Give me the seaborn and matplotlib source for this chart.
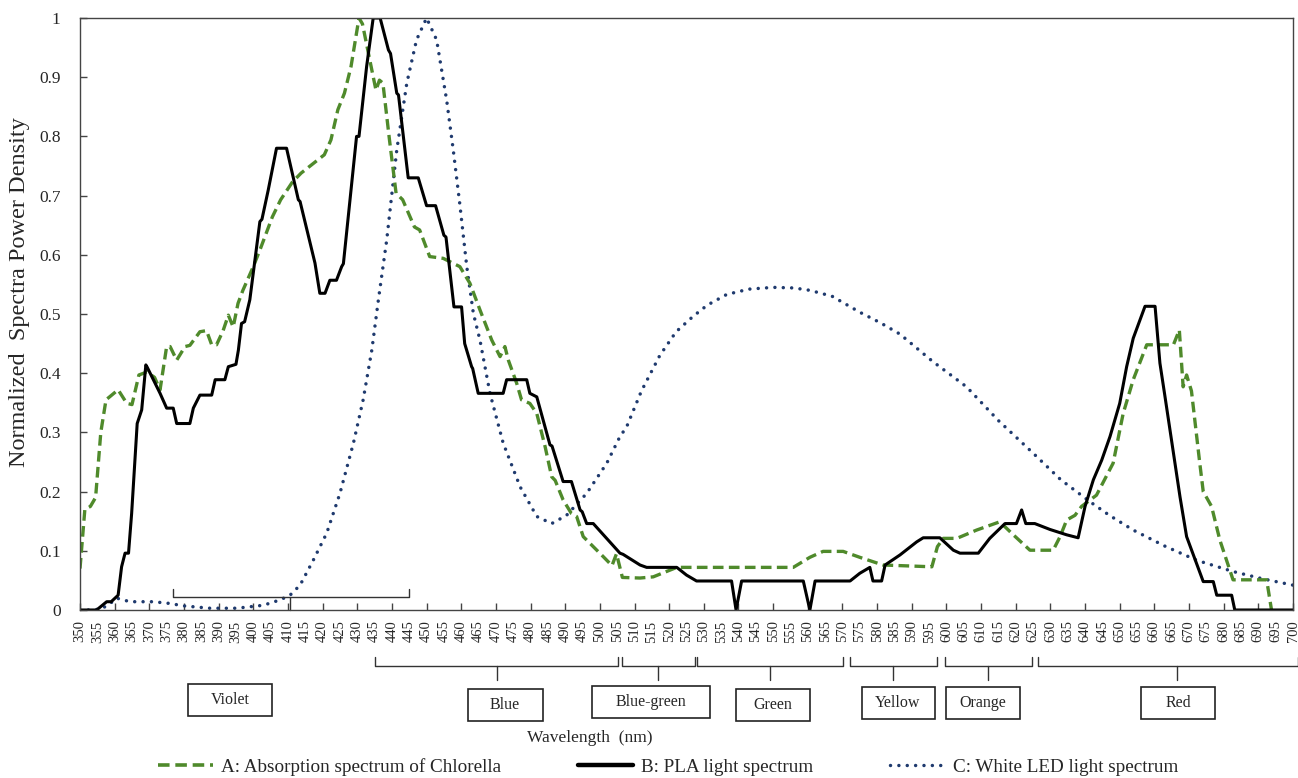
import numpy as np
import pandas as pd
import matplotlib
matplotlib.use("Agg")
import matplotlib.pyplot as plt
from matplotlib.lines import Line2D
from matplotlib.patches import Rectangle
import seaborn as sns

# ---------------- data ----------------
wl_a = [350.0, 351.4, 353.0, 354.5, 356.0, 357.5, 361.0, 363.5, 365.0, 367.0, 369.3, 371.5, 373.1,
        375.0, 376.0, 377.9, 380.3, 381.7, 384.6, 386.5, 388.0, 389.4, 391.3, 392.8, 394.2, 395.6,
        397.0, 400.0, 402.1, 405.5, 407.9, 411.3, 413.8, 420.5, 422.4, 424.4, 426.3, 428.2, 430.5,
        431.5, 434.0, 435.4, 436.4, 437.4, 439.3, 441.2, 443.1, 446.5, 448.0, 450.9, 454.8, 459.6,
        462.5, 465.4, 468.8, 471.2, 472.6, 473.6, 476.0, 477.4, 479.8, 481.8, 484.2, 486.1, 487.1,
        489.4, 491.8, 493.3, 495.2, 498.1, 501.0, 503.5, 504.8, 506.5, 511.6, 515.4, 522.2, 555.8,
        560.6, 564.4, 570.2, 575.0, 581.7, 595.8, 597.4, 599.1, 603.0, 608.7, 615.4, 619.3, 624.1,
        630.8, 632.8, 634.7, 637.1, 639.0, 643.3, 648.1, 651.0, 653.9, 657.8, 665.5, 667.2, 668.3,
        669.3, 670.7, 673.1, 674.1, 676.5, 678.9, 682.7, 692.4, 693.8]
absorption_a = [0.07, 0.17, 0.175, 0.19, 0.30, 0.355, 0.372, 0.349, 0.347, 0.397, 0.402, 0.393, 0.372,
                0.445, 0.445, 0.422, 0.445, 0.447, 0.47, 0.472, 0.448, 0.448, 0.472, 0.498, 0.478, 0.518,
                0.54, 0.58, 0.611, 0.664, 0.693, 0.723, 0.738, 0.769, 0.794, 0.845, 0.873, 0.918, 1.0,
                0.99, 0.918, 0.878, 0.895, 0.89, 0.794, 0.704, 0.693, 0.647, 0.642, 0.597, 0.594, 0.58,
                0.552, 0.507, 0.456, 0.428, 0.445, 0.422, 0.383, 0.355, 0.349, 0.332, 0.276, 0.225, 0.219,
                0.186, 0.163, 0.158, 0.124, 0.107, 0.09, 0.075, 0.095, 0.055, 0.054, 0.056, 0.072, 0.072,
                0.089, 0.099, 0.099, 0.089, 0.076, 0.073, 0.107, 0.121, 0.121, 0.135, 0.149, 0.127, 0.101,
                0.101, 0.124, 0.152, 0.16, 0.175, 0.194, 0.248, 0.332, 0.389, 0.448, 0.448, 0.473, 0.377,
                0.397, 0.37, 0.248, 0.2, 0.175, 0.118, 0.051, 0.051, 0.0]

wl_b = [350.0, 354.8, 357.7, 359.0, 361.0, 362.0, 363.0, 364.0, 364.9, 366.5, 367.8, 369.0, 369.4,
        373.1, 375.0, 376.9, 377.9, 381.7, 382.7, 384.6, 388.0, 389.0, 391.8, 392.8, 395.0, 395.7,
        396.6, 397.5, 399.0, 401.9, 402.5, 404.3, 406.7, 409.6, 413.0, 413.5, 417.8, 419.2, 420.7,
        422.1, 424.0, 425.5, 426.0, 429.8, 430.5, 432.7, 434.6, 436.6, 439.0, 439.6, 441.4, 441.9,
        444.7, 447.6, 450.0, 452.6, 455.0, 455.6, 457.9, 460.1, 461.0, 463.0, 463.3, 464.9, 472.1,
        473.1, 478.9, 479.8, 481.8, 485.6, 486.2, 489.4, 491.8, 494.3, 494.9, 496.2, 498.1, 502.9,
        505.8, 506.7, 511.6, 513.5, 522.2, 525.0, 527.9, 538.0, 539.3, 540.9, 558.7, 560.6, 562.1,
        572.2, 575.0, 577.9, 578.8, 581.3, 582.3, 586.6, 591.4, 593.3, 598.1, 602.0, 603.9, 609.2,
        612.5, 616.9, 620.2, 621.7, 622.9, 625.5, 629.9, 634.7, 638.0, 640.0, 642.4, 644.8, 647.2,
        650.0, 652.0, 653.9, 657.3, 660.2, 661.6, 663.0, 667.4, 669.3, 674.1, 677.0, 678.0, 682.3,
        683.2, 700.0]
pla_b = [0.0, 0.0, 0.014, 0.014, 0.025, 0.073, 0.096, 0.096, 0.163, 0.315, 0.338, 0.414, 0.41,
         0.366, 0.341, 0.341, 0.315, 0.315, 0.341, 0.363, 0.363, 0.389, 0.389, 0.411, 0.415, 0.439,
         0.484, 0.487, 0.524, 0.656, 0.66, 0.709, 0.78, 0.78, 0.693, 0.69, 0.586, 0.535, 0.535,
         0.557, 0.557, 0.58, 0.585, 0.8, 0.8, 0.918, 1.0, 1.0, 0.946, 0.94, 0.873, 0.87,
         0.73, 0.73, 0.683, 0.683, 0.633, 0.63, 0.512, 0.512, 0.45, 0.411, 0.408, 0.366, 0.366,
         0.389, 0.389, 0.366, 0.36, 0.279, 0.277, 0.217, 0.217, 0.169, 0.166, 0.146, 0.146, 0.115,
         0.096, 0.094, 0.076, 0.072, 0.072, 0.059, 0.049, 0.049, 0.0, 0.049, 0.049, 0.0, 0.049,
         0.049, 0.062, 0.072, 0.049, 0.049, 0.076, 0.093, 0.115, 0.122, 0.122, 0.101, 0.096, 0.096,
         0.121, 0.146, 0.146, 0.169, 0.146, 0.146, 0.136, 0.127, 0.122, 0.175, 0.22, 0.253, 0.293,
         0.349, 0.411, 0.459, 0.513, 0.513, 0.417, 0.363, 0.191, 0.124, 0.048, 0.048, 0.025, 0.025,
         0.0, 0.0]

wl_c = [350.0, 354.0, 356.5, 358.7, 360.6, 364.4, 371.1, 376.0, 379.8, 387.5, 395.2, 402.9, 407.7,
        410.6, 413.5, 417.3, 421.2, 425.0, 428.9, 431.7, 434.2, 436.1, 438.5, 441.4, 444.3, 447.1,
        450.0, 452.9, 455.8, 457.7, 459.6, 461.6, 463.5, 465.4, 468.3, 472.1, 477.0, 481.8, 486.1,
        490.4, 496.2, 502.0, 505.8, 507.7, 512.0, 517.3, 522.0, 526.9, 531.0, 536.6, 543.0, 550.0,
        556.0, 560.6, 567.0, 575.0, 581.0, 586.6, 596.0, 605.8, 615.0, 625.0, 633.0, 641.4, 647.0,
        653.9, 663.0, 672.2, 682.7, 691.0, 700.0]
led_c = [0.0, 0.0, 0.003, 0.011, 0.02, 0.014, 0.014, 0.011, 0.007, 0.003, 0.003, 0.008, 0.017,
         0.025, 0.042, 0.084, 0.13, 0.197, 0.282, 0.355, 0.439, 0.524, 0.625, 0.777, 0.89, 0.963,
         1.0, 0.963, 0.861, 0.777, 0.685, 0.58, 0.501, 0.456, 0.366, 0.282, 0.208, 0.158, 0.146,
         0.16, 0.197, 0.248, 0.293, 0.309, 0.37, 0.43, 0.47, 0.496, 0.515, 0.533, 0.542, 0.545,
         0.544, 0.54, 0.53, 0.503, 0.485, 0.466, 0.42, 0.377, 0.32, 0.265, 0.22, 0.183, 0.16,
         0.135, 0.108, 0.084, 0.065, 0.053, 0.042]

band_names = ["Violet", "Blue", "Blue-green", "Green", "Yellow", "Orange", "Red"]
band_start = [376.8, 435.1, 506.4, 528.0, 572.2, 599.6, 626.4]
band_end = [444.9, 505.2, 527.4, 570.1, 597.3, 624.7, 701.4]
band_center = [410.6, 470.3, 516.8, 549.0, 584.6, 612.0, 666.5]

series_labels = ["A: Absorption spectrum of Chlorella", "B: PLA light spectrum",
                 "C: White LED light spectrum"]
xtick_values = list(range(350, 701, 5))
ytick_values = [0.0, 0.1, 0.2, 0.3, 0.4, 0.5, 0.6, 0.7, 0.8, 0.9, 1.0]
ytick_labels = ["0", "0.1", "0.2", "0.3", "0.4", "0.5", "0.6", "0.7", "0.8", "0.9", "1"]

# ---------------- style ----------------
sns.set_style("ticks")
plt.rcParams["font.family"] = ["Liberation Serif", "DejaVu Serif"]

W, H = 1298, 778
fig = plt.figure(figsize=(W / 100, H / 100), dpi=100)
ax = fig.add_axes([80 / W, (H - 610) / H, 1213 / W, 592 / H])

GREEN = "#4f8a2b"
NAVY = "#1f3a6e"
DOTS = (0, (0.01, 2.4))
DASH = (0, (3.2, 1.6))

sns.lineplot(x=wl_c, y=led_c, ax=ax, color=NAVY, lw=2.5, estimator=None, sort=False,
             linestyle=DOTS, dash_capstyle="round")
sns.lineplot(x=wl_a, y=absorption_a, ax=ax, color=GREEN, lw=2.4, estimator=None, sort=False,
             linestyle=DASH)
sns.lineplot(x=wl_b, y=pla_b, ax=ax, color="black", lw=2.2, estimator=None, sort=False)

ax.set_xlim(350, 700)
ax.set_ylim(0, 1)
for s in ax.spines.values():
    s.set_color("#444444")
    s.set_linewidth(1.0)

ax.set_xticks(xtick_values)
ax.set_xticklabels([str(v) for v in xtick_values], rotation=90, fontsize=10.5)
ax.tick_params(axis="x", direction="in", length=5, width=1, pad=7.5, color="#444444")
for i, t in enumerate(ax.xaxis.get_major_ticks()):
    if i % 2 == 1:
        t.tick1line.set_visible(False)
ax.set_yticks(ytick_values)
ax.set_yticklabels(ytick_labels, fontsize=12.5)
ax.tick_params(axis="y", direction="in", length=5, width=1, pad=14, color="#444444")
ax.set_xlabel("")
ax.set_ylabel("")

# ---------------- brackets ----------------
def bracket(x0, x1, xc, y_end, y_line, y_stem):
    # x in data coords, y in figure pixels from top
    tr = matplotlib.transforms.blended_transform_factory(ax.transData, fig.transFigure)
    ys = [1 - y / H for y in (y_end, y_line, y_line, y_end)]
    ax.plot([x0, x0, x1, x1], ys, transform=tr, color="#333333", lw=1.0, clip_on=False)
    ax.plot([xc, xc], [1 - y_line / H, 1 - y_stem / H], transform=tr, color="#333333", lw=1.0,
            clip_on=False)

for i, name in enumerate(band_names):
    if i == 0:
        bracket(band_start[i], band_end[i], band_center[i], 589, 597, 610)
    else:
        bracket(band_start[i], band_end[i], band_center[i], 657, 666, 680)

# label boxes (pixel centres / widths)
box_cx = [230, 505, 651, 773, 898, 983, 1178]
box_cy = [700, 705, 702, 705, 703, 703, 703]
box_w = [84, 75, 118, 74, 73, 74, 74]
box_h = 32
for name, cx, cy, w in zip(band_names, box_cx, box_cy, box_w):
    fig.patches.append(Rectangle(((cx - w / 2) / W, 1 - (cy + box_h / 2) / H), w / W, box_h / H,
                                 transform=fig.transFigure, fill=False, ec="#222222", lw=1.2))
    fig.text(cx / W, 1 - cy / H, name, ha="center", va="center", fontsize=11.5)

fig.text(590 / W, 1 - 738 / H, "Wavelength  (nm)", ha="center", va="center", fontsize=12.5)
fig.text(20 / W, 1 - 292 / H, "Normalized  Spectra Power Density", rotation=90,
         ha="center", va="center", fontsize=17.5)

handles = [Line2D([], [], color=GREEN, lw=2.6, linestyle=DASH),
           Line2D([], [], color="black", lw=3.2),
           Line2D([], [], color=NAVY, lw=2.5, linestyle=DOTS, dash_capstyle="round")]
fig.legend(handles, series_labels, loc="center", bbox_to_anchor=(668 / W, 1 - 767 / H), ncol=3,
           frameon=False, fontsize=13.8, handlelength=2.9, handletextpad=0.4, columnspacing=4.0,
           borderaxespad=0, borderpad=0)

fig.savefig("out.png", dpi=100)
